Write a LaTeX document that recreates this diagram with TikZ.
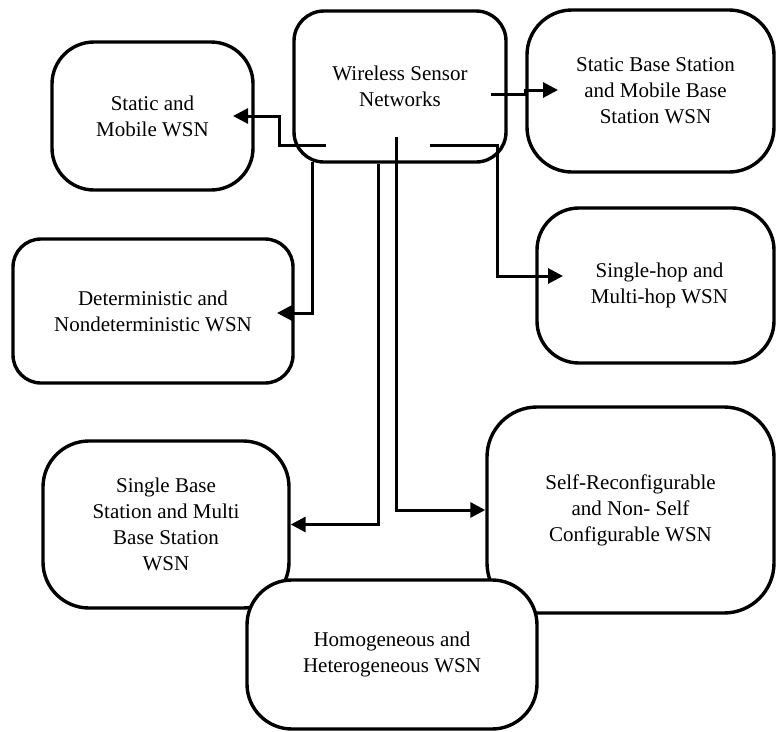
\documentclass[tikz,border=0pt]{standalone}
\usepackage{fontspec}
\setmainfont{Liberation Serif}
\usetikzlibrary{arrows.meta}
\begin{document}
\begin{tikzpicture}[x=1pt,y=-1pt,
  box/.style={draw=black,fill=white,line width=3.4pt,rectangle,inner sep=0pt,align=center,
    font=\fontsize{21}{26}\selectfont},
  conn/.style={draw=black,line width=3pt,-{Triangle[length=15pt,width=15pt]}}]
\useasboundingbox (0,0) rectangle (776,731);
% boxes
\node[box,rounded corners=30pt,minimum width=212pt,minimum height=151pt] (wsn) at (400,86.5) {Wireless Sensor\\Networks};
\node[box,rounded corners=42pt,minimum width=201pt,minimum height=148pt] (sm) at (152.5,116) {Static and\\Mobile WSN};
\node[box,rounded corners=45pt,minimum width=247pt,minimum height=162pt] (sb) at (650.5,91) {\hspace*{10pt}Static Base Station\\\hspace*{10pt}and Mobile Base\\\hspace*{10pt}Station WSN};
\node[box,rounded corners=28pt,minimum width=280pt,minimum height=144pt] (det) at (153,311) {Deterministic and\\Nondeterministic WSN};
\node[box,rounded corners=42pt,minimum width=237pt,minimum height=155pt] (sh) at (655.5,285.5) {\hspace*{8pt}Single-hop and\\\hspace*{8pt}Multi-hop WSN};
\node[box,rounded corners=46pt,minimum width=246pt,minimum height=167pt] (sbs) at (166,524.5) {Single Base\\Station and Multi\\Base Station\\WSN};
\node[box,rounded corners=50pt,minimum width=287pt,minimum height=206pt] (sr) at (630.5,510) {Self-Reconfigurable\\and Non- Self\\Configurable WSN};
% connector end points
\coordinate (s1) at (326,145);
\coordinate (t1) at (233,116);
\coordinate (s2) at (491,94);
\coordinate (t2) at (558,90);
\coordinate (s3) at (396,137);
\coordinate (s4) at (378,164);
\coordinate (s5) at (312,162);
\coordinate (t5) at (277,313);
\coordinate (s6) at (430,145);
\coordinate (t6) at (563,276);
% connectors
\draw[conn] (s1) -- ++(-47,0) |- (t1);
\draw[conn] (s2) -- ++(34,0) -- ++(0,-4) -- (t2);
\draw[conn] (s3) |- (sr.west);
\draw[conn] (s4) |- (sbs.east);
\draw[conn] (s5) |- (t5);
\draw[conn] (s6) -- ++(67,0) |- (t6);
% homogeneous box drawn on top
\node[box,rounded corners=45pt,minimum width=290pt,minimum height=149pt] (hom) at (392,654.5) {Homogeneous and\\Heterogeneous WSN};
\end{tikzpicture}
\end{document}
